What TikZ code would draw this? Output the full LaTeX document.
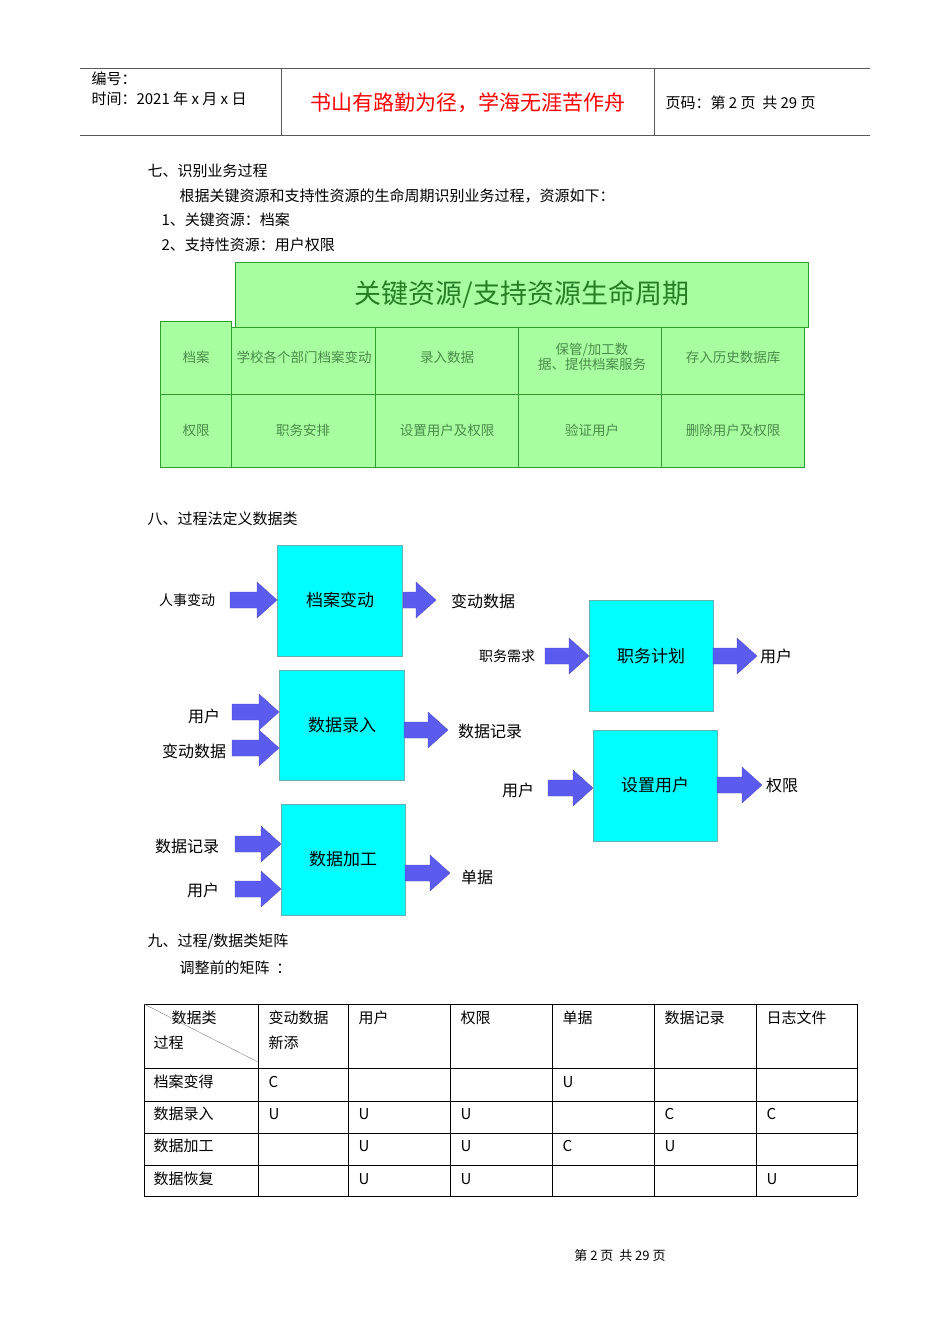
\documentclass[tikz,border=0pt]{standalone}
\usepackage{fontspec}
\setmainfont{Noto Sans CJK SC}
\definecolor{gfill}{HTML}{A8FFA0}
\definecolor{gline}{HTML}{2E9E2E}
\definecolor{gtext}{HTML}{4A8A4A}
\definecolor{bluea}{HTML}{5B5BF0}
\definecolor{cyanb}{HTML}{00FFFF}
\newcommand{\fs}[1]{\fontsize{#1}{#1}\selectfont}
\tikzset{
 cell/.style={draw=gline,fill=gfill,line width=0.8pt},
 ctext/.style={text=gtext,font=\fs{13.5},align=center},
 proc/.style={draw=teal!60,fill=cyanb,line width=0.6pt},
 ptext/.style={font=\fs{17}},
 lab/.style={font=\fs{16}},
 barrow/.style={fill=bluea,draw=bluea!80!black,line width=0.3pt},
 body/.style={font=\fs{15},anchor=west},
 tline/.style={line width=0.6pt}
}
\newcommand{\arr}[4]{%
 \coordinate (#1s) at (#2,#4); \coordinate (#1e) at (#3,#4);
 \draw[barrow] (#1s) ++(0,-8) -- ++({#3-#2-20},0) -- ++(0,-10) -- (#1e) -- ++(-20,18) -- ++(0,-10) -- ++({#2-#3+20},0) -- cycle;}
\begin{document}
\begin{tikzpicture}[x=1pt,y=-1pt]
\useasboundingbox[fill=white] (0,0) rectangle (950,1344);
% header
\draw[line width=0.8pt,gray!70!black] (80,68) -- (870,68) (80,135) -- (870,135) (281,68) -- (281,135) (654,68) -- (654,135);
\node[anchor=west,font=\fs{15}] (h1) at (88,79) {编号：};
\node[anchor=west,font=\fs{15}] (h2) at (88,99) {时间：2021 年 x 月 x 日};
\node[font=\fs{21},text=red] (h3) at (468,103) {书山有路勤为径，学海无涯苦作舟};
\node[anchor=west,font=\fs{15}] (h4) at (662,103) {页码：第 2 页\ \ 共 29 页};
% section 7
\node[body] (s7) at (144,171) {七、识别业务过程};
\node[body] (s7a) at (176,196) {根据关键资源和支持性资源的生命周期识别业务过程，资源如下：};
\node[body] (s7b) at (158,220) {1、关键资源：档案};
\node[body] (s7c) at (158,245) {2、支持性资源：用户权限};
% green table
\draw[cell] (160,321) rectangle (231,394);
\draw[cell] (160,394) rectangle (231,467);
\foreach \a/\b in {231/375,375/518,518/661,661/804}{
 \draw[cell] (\a,327) rectangle (\b,394);
 \draw[cell] (\a,394) rectangle (\b,467);}
\draw[cell] (235,262) rectangle (808,327);
\node[font=\fs{27},text=gline!80!black] (gt) at (522,294) {关键资源/支持资源生命周期};
\node[ctext] (g1) at (196,357) {档案};
\node[ctext] (g2) at (196,430) {权限};
\begin{scope}
\clip (231,327) rectangle (375,394);
\node[ctext,anchor=west] (g3) at (233,357) {学校各个部门档案变动};
\end{scope}
\node[ctext] (g4) at (447,357) {录入数据};
\node[ctext] (g5) at (592,357) {保管/加工数\\据、提供档案服务};
\node[ctext] (g6) at (733,357) {存入历史数据库};
\node[ctext] (g7) at (303,430) {职务安排};
\node[ctext] (g8) at (447,430) {设置用户及权限};
\node[ctext] (g9) at (592,430) {验证用户};
\node[ctext] (g10) at (733,430) {删除用户及权限};
% section 8
\node[body] (s8) at (144,519) {八、过程法定义数据类};
\draw[proc] (277,545) rectangle (402,656); \node[ptext] (p1) at (340,600) {档案变动};
\draw[proc] (279,670) rectangle (404,780); \node[ptext] (p2) at (342,725) {数据录入};
\draw[proc] (281,804) rectangle (405,915); \node[ptext] (p3) at (343,859) {数据加工};
\draw[proc] (589,600) rectangle (713,711); \node[ptext] (p4) at (651,656) {职务计划};
\draw[proc] (593,730) rectangle (717,841); \node[ptext] (p5) at (655,785) {设置用户};
\arr{a1}{230}{277}{600}
\arr{a2}{403}{436}{600}
\arr{a3}{232}{279}{712}
\arr{a4}{232}{279}{748}
\arr{a5}{404}{448}{730}
\arr{a6}{235}{281}{844}
\arr{a7}{235}{281}{889}
\arr{a8}{405}{450}{873}
\arr{a9}{545}{589}{656}
\arr{a10}{713}{757}{656}
\arr{a11}{548}{593}{788}
\arr{a12}{717}{762}{785}
\node[font=\fs{14}] (l1) at (187,600) {人事变动};
\node[lab] (l2) at (483,601) {变动数据};
\node[lab] (l3) at (204,716) {用户};
\node[lab] (l4) at (194,751) {变动数据};
\node[lab] (l5) at (490,731) {数据记录};
\node[lab] (l6) at (187,846) {数据记录};
\node[lab] (l7) at (203,890) {用户};
\node[lab] (l8) at (477,877) {单据};
\node[font=\fs{14}] (l9) at (507,656) {职务需求};
\node[lab] (l10) at (776,656) {用户};
\node[lab] (l11) at (518,790) {用户};
\node[lab] (l12) at (782,785) {权限};
% section 9
\node[body] (s9) at (144,942) {九、过程/数据类矩阵};
\node[body] (s9a) at (176,968) {调整前的矩阵\ \ ：};
\foreach \y in {1004,1068,1101,1133,1165,1196} \draw[tline] (144,\y) -- (857,\y);
\foreach \x in {144,258,348,450,552,654,756,857} \draw[tline] (\x,1004) -- (\x,1196);
\draw[line width=0.4pt,gray] (144,1004) -- (258,1062);
\node[body] (m0) at (168,1018) {数据类};
\node[body] (m00) at (150,1043) {过程};
\node[body] (c1) at (265,1018) {变动数据};
\node[body] (c1b) at (265,1043) {新添};
\node[body] (c2) at (355,1018) {用户};
\node[body] (c3) at (457,1018) {权限};
\node[body] (c4) at (559,1018) {单据};
\node[body] (c5) at (661,1018) {数据记录};
\node[body] (c6) at (763,1018) {日志文件};
\node[body] (r1) at (150,1082) {档案变得};
\node[body] (r2) at (150,1114) {数据录入};
\node[body] (r3) at (150,1146) {数据加工};
\node[body] (r4) at (150,1179) {数据恢复};
\node[body] (e1) at (265,1082) {C};
\node[body] (e2) at (559,1082) {U};
\node[body] (e3) at (265,1114) {U};
\node[body] (e4) at (355,1114) {U};
\node[body] (e5) at (457,1114) {U};
\node[body] (e6) at (661,1114) {C};
\node[body] (e7) at (763,1114) {C};
\node[body] (e8) at (355,1146) {U};
\node[body] (e9) at (457,1146) {U};
\node[body] (e10) at (559,1146) {C};
\node[body] (e11) at (661,1146) {U};
\node[body] (e12) at (355,1179) {U};
\node[body] (e13) at (457,1179) {U};
\node[body] (e14) at (763,1179) {U};
\node[font=\fs{13}] (ft) at (620,1256) {第\ 2\ 页\ \ 共\ 29\ 页};
\end{tikzpicture}
\end{document}
